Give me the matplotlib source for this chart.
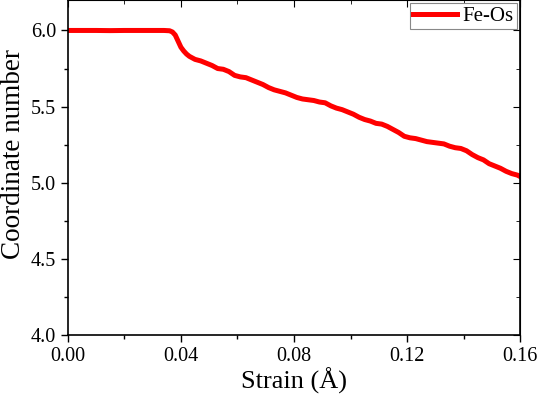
import matplotlib
matplotlib.use('Agg')
import matplotlib.pyplot as plt
from matplotlib.ticker import MultipleLocator

plt.rcParams['font.family'] = ['Liberation Serif', 'DejaVu Serif']
plt.rcParams['mathtext.fontset'] = 'stix'

# 数据：应变与配位数
strain = [0.000, 0.005, 0.010, 0.015, 0.020, 0.025, 0.030, 0.034, 0.036, 0.037,
          0.038, 0.039, 0.040, 0.041, 0.042, 0.043, 0.045, 0.047, 0.049, 0.051,
          0.053, 0.055, 0.057, 0.059, 0.061, 0.063, 0.065, 0.067, 0.069, 0.071,
          0.073, 0.075, 0.077, 0.079, 0.081, 0.083, 0.085, 0.087, 0.089, 0.091,
          0.093, 0.095, 0.097, 0.099, 0.101, 0.103, 0.105, 0.107, 0.109, 0.111,
          0.113, 0.115, 0.117, 0.119, 0.121, 0.123, 0.125, 0.127, 0.129, 0.131,
          0.133, 0.135, 0.137, 0.139, 0.141, 0.143, 0.145, 0.147, 0.149, 0.151,
          0.153, 0.155, 0.157, 0.159, 0.160]
coord = [6.000, 6.000, 6.000, 5.999, 6.000, 6.000, 6.000, 6.000, 5.998, 5.990,
         5.970, 5.930, 5.890, 5.865, 5.845, 5.830, 5.810, 5.800, 5.785, 5.770,
         5.750, 5.745, 5.730, 5.705, 5.695, 5.690, 5.675, 5.660, 5.645, 5.625,
         5.610, 5.600, 5.590, 5.575, 5.560, 5.550, 5.545, 5.540, 5.530, 5.525,
         5.505, 5.490, 5.480, 5.465, 5.450, 5.430, 5.415, 5.405, 5.390, 5.385,
         5.370, 5.350, 5.330, 5.305, 5.295, 5.290, 5.280, 5.270, 5.265, 5.260,
         5.255, 5.240, 5.230, 5.225, 5.210, 5.185, 5.165, 5.150, 5.125, 5.110,
         5.095, 5.075, 5.060, 5.050, 5.040]

fig, ax = plt.subplots(figsize=(5.38, 3.96), dpi=100)
fig.subplots_adjust(left=0.126, right=0.967, bottom=0.154, top=1.0)

ax.plot(strain, coord, color='#ff0000', linewidth=3.6, label='Fe-Os')

ax.set_xlim(0, 0.16)
ax.set_ylim(4.0, 6.2)
ax.xaxis.set_major_locator(MultipleLocator(0.04))
ax.xaxis.set_minor_locator(MultipleLocator(0.02))
ax.yaxis.set_major_locator(MultipleLocator(0.5))
ax.yaxis.set_minor_locator(MultipleLocator(0.25))
ax.xaxis.set_major_formatter(plt.FormatStrFormatter('%.2f'))
ax.yaxis.set_major_formatter(plt.FormatStrFormatter('%.1f'))

ax.tick_params(axis='both', which='both', direction='out', labelsize=14.5,
               top=False, right=False)
ax.tick_params(which='major', length=5, width=1)
ax.tick_params(which='minor', length=3, width=1)
# 顶部和右侧的刻度朝内
ax2 = ax.secondary_xaxis('top')
ax2.xaxis.set_major_locator(MultipleLocator(0.04))
ax2.xaxis.set_minor_locator(MultipleLocator(0.02))
ax2.tick_params(which='both', direction='in', labeltop=False)
ax2.tick_params(which='major', length=5)
ax2.tick_params(which='minor', length=3)
ax3 = ax.secondary_yaxis('right')
ax3.yaxis.set_major_locator(MultipleLocator(0.5))
ax3.yaxis.set_minor_locator(MultipleLocator(0.25))
ax3.tick_params(which='both', direction='in', labelright=False)
ax3.tick_params(which='major', length=5)
ax3.tick_params(which='minor', length=3)

for s in ax.spines.values():
    s.set_linewidth(1.2)

ax.set_xlabel('Strain (Å)', fontsize=19, labelpad=1)
ax.set_ylabel('Coordinate number', fontsize=19.5)
ax.yaxis.set_label_coords(-0.092, 0.54)

leg = ax.legend(loc='upper right', fontsize=15, frameon=True, fancybox=False,
                edgecolor='#888888', handlelength=2.1, borderpad=0.15,
                handletextpad=0.3, borderaxespad=0.15, framealpha=1)
leg.get_frame().set_linewidth(0.8)

plt.savefig('out.png', dpi=100)
